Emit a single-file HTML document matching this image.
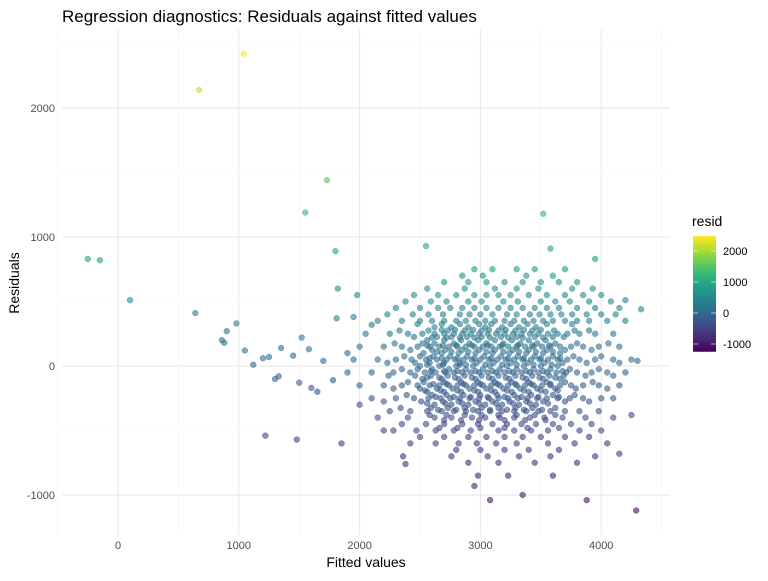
<!DOCTYPE html>
<html><head><meta charset="utf-8"><style>
body{margin:0;background:#fff;font-family:"Liberation Sans",sans-serif}
svg text{font-family:"Liberation Sans",sans-serif}
</style></head><body>
<svg id="chart" width="768" height="576" viewBox="0 0 768 576" xmlns="http://www.w3.org/2000/svg">
<text x="62" y="22" font-size="17" fill="#000">Regression diagnostics: Residuals against fitted values</text>
<g id="grid"></g>
<g id="points"></g>
<g id="axes"></g>
<text x="366" y="567" font-size="14" text-anchor="middle">Fitted values</text>
<text transform="translate(19,283) rotate(-90)" font-size="14" text-anchor="middle">Residuals</text>
<g id="legend">
<text x="692" y="226" font-size="14">resid</text>
</g>
</svg>
<script>
const xTicks=[0,1000,2000,3000,4000];
const yTicks=[-1000,0,1000,2000];
const legendTicks=[-1000,0,1000,2000];
const outlierFitted=[-250,-150,100,640,670,1040,980,900,860,880,1050,1120,1200,1220,1250,1300,1330,1350,1450,1480,1500,1520,1550,1580,1600,1650,1700,1730,1780,1800,1810,1820,1850,1900,1950,1980,2000,2100,2200,2380,2550,3520,3580,3080,3350,3880,4290,4250,4150,4330,4200,4100,4300,3950,2950];
const outlierResid=[830,820,510,410,2140,2420,330,270,200,180,120,10,60,-540,70,-100,-80,140,80,-570,-130,220,1190,130,-170,-200,40,1440,-110,890,370,600,-600,100,380,550,-300,320,-500,-760,930,1180,910,-1040,-1000,-1040,-1120,-380,-680,440,510,-250,40,830,-930];
const bandResid=[750,650,550,450,350,300,250,200,150,100,50,0,-50,-100,-150,-200,-250,-300,-350,-450,-550,-650,-750,
700,600,500,400,325,275,225,175,125,75,25,-25,-75,-125,-175,-225,-275,-325,-400,-500,-600,-700,-850,
280,220,160,110,60,10,-40,-90,-140,-190,-240,-290,-340,-380,-420,-480];
const bandFitted=[
[2950,3100,3300,3450,3700],
[2700,2900,3050,3200,3350,3500,3650,3800],
[2450,2650,2800,2950,3050,3150,3250,3400,3550,3700,3850,4000],
[2300,2500,2650,2750,2850,2950,3050,3150,3250,3350,3450,3550,3650,3800,3950,4150],
[2150,2350,2500,2600,2700,2800,2880,2960,3040,3120,3200,3280,3360,3440,3520,3600,3700,3800,3900,4050,4200],
[2620,2760,2900,3040,3180,3320,3460],
[2050,2250,2400,2520,2620,2700,2780,2850,2920,2990,3060,3130,3200,3270,3340,3410,3480,3560,3640,3720,3820,3950,4100],
[2560,2700,2840,2980,3120,3260,3400,3540],
[2000,2200,2350,2480,2580,2660,2740,2810,2880,2950,3020,3090,3160,3230,3300,3370,3440,3510,3580,3660,3750,3850,3980,4150],
[2530,2680,2820,2960,3100,3240,3380,3520,3660],
[1950,2150,2300,2430,2550,2640,2720,2790,2860,2930,3000,3070,3140,3210,3280,3350,3420,3490,3560,3640,3720,3820,3950,4100,4250],
[2500,2660,2800,2940,3080,3220,3360,3500,3640],
[1900,2100,2280,2420,2540,2630,2710,2780,2850,2920,2990,3060,3130,3200,3270,3340,3410,3480,3550,3630,3710,3800,3920,4050,4200],
[2520,2680,2820,2960,3100,3240,3380,3520,3660],
[2000,2200,2350,2480,2580,2660,2740,2810,2880,2950,3020,3090,3160,3230,3300,3370,3440,3510,3580,3660,3750,3850,3980,4150],
[2560,2700,2840,2980,3120,3260,3400,3540],
[2100,2300,2450,2570,2670,2750,2830,2910,2990,3070,3150,3230,3310,3390,3470,3550,3640,3740,3850,4000],
[2620,2760,2900,3040,3180,3320,3460],
[2250,2420,2560,2680,2780,2880,2980,3080,3180,3280,3380,3480,3580,3700,3820,3980],
[2350,2550,2700,2850,2980,3100,3220,3340,3460,3600,3750,3920],
[2500,2700,2900,3050,3200,3350,3500,3700,3900],
[2800,3000,3200,3400,3650],
[2900,3150,3450,3800],
[3020,3380,3600,2850],
[2560,2870,3120,3300,3480,3760,3930],
[2380,2590,2720,2900,3010,3190,3310,3500,3620,3740,3900,4080],
[2230,2440,2570,2690,2830,2910,3000,3100,3220,3300,3410,3490,3580,3670,3760,3880,4000,4120],
[2480,2680,2830,2990,3090,3250,3390,3550,3760],
[2330,2570,2730,2870,3010,3150,3290,3430,3610,3780,3900],
[2450,2640,2760,2890,3010,3170,3300,3450,3600,3690],
[2290,2520,2620,2780,2910,3050,3190,3330,3470,3620,3800,4060],
[2420,2600,2710,2850,2990,3120,3270,3400,3550,3700,3920],
[2370,2500,2610,2750,2890,3030,3170,3310,3450,3600,3770,4000],
[2230,2460,2580,2700,2830,2970,3110,3250,3390,3530,3680,3880,4150],
[2350,2480,2600,2740,2880,3020,3160,3300,3440,3580,3740,3980],
[2240,2460,2590,2730,2870,3010,3150,3290,3430,3570,3690,3870,4100],
[2400,2530,2700,2840,2980,3120,3260,3400,3550,3700,3930],
[2280,2500,2640,2770,2910,3050,3190,3330,3470,3620,3790,4050],
[2390,2600,2720,2860,3000,3140,3280,3420,3600,3780],
[2200,2510,2690,2820,2960,3100,3240,3380,3520,3700,3900],
[2340,2590,2730,2870,3010,3150,3290,3430,3620],
[2150,2400,2620,2760,2930,3040,3160,3280,3410,3530,3680,3870,4100],
[2280,2470,2630,2780,2920,3150,3280,3420,3560,3820,4000],
[2420,2630,2820,2970,3130,3300,3560,3780,4050],
[2360,2760,3060,3320,3580,3950],
[2980,3230,3600],
[2680,2790,2940,3070,3210,3360,3500],
[2600,2720,2830,2950,3080,3230,3350,3520],
[2560,2690,2800,2930,3060,3180,3310,3430,3570],
[2640,2760,2900,3050,3190,3320,3460,3600],
[2580,2680,2810,2950,3090,3230,3360,3500,3660],
[2560,2690,2830,2880,3040,3180,3300,3440,3590],
[2590,2700,2810,2960,3100,3240,3380,3520,3680],
[2560,2660,2790,2930,3070,3210,3350,3490,3620],
[2610,2720,2860,3000,3140,3290,3420,3580],
[2540,2670,2810,2950,3090,3220,3360,3500,3640],
[2630,2780,2920,3060,3200,3340,3480,3650],
[2560,2710,2850,2990,3130,3270,3410,3560],
[2650,2800,2940,3080,3220,3360,3510],
[2580,2720,2870,3010,3150,3300,3450,3620],
[2700,2840,2990,3200,3370,3540],
[2660,2810,3000,3200,3390,3650]];
const NS='http://www.w3.org/2000/svg';
const px=v=>118+v*0.1208;
const py=v=>366-v*0.129;
const ly=v=>313-v*0.031;
const cMin=-1250,cMax=2480;
const vir=[[68,1,84],[72,40,120],[62,74,137],[49,104,142],[38,130,142],[31,158,137],[53,183,121],[109,205,89],[180,222,44],[253,231,37]];
function col(v){let t=Math.max(0,Math.min(1,(v-cMin)/(cMax-cMin)))*9;let i=Math.min(8,Math.floor(t)),f=t-i;const a=vir[i],b=vir[i+1];return 'rgb('+a.map((c,k)=>Math.round(c+(b[k]-c)*f)).join(',')+')';}
function mk(tag,at,parent){const e=document.createElementNS(NS,tag);for(const k in at)e.setAttribute(k,at[k]);parent.appendChild(e);return e;}
const grid=document.getElementById('grid');
mk('rect',{x:62,y:30,width:608,height:505,fill:'#fff'},grid);
xTicks.forEach(t=>{const l=mk('line',{x1:px(t),x2:px(t),y1:30,y2:535,stroke:'#e6e6e6','stroke-width':1},grid);
const m=mk('line',{x1:px(t+500),x2:px(t+500),y1:30,y2:535,stroke:'#f3f3f3','stroke-width':0.6},grid);});
const m0=mk('line',{x1:px(-500),x2:px(-500),y1:30,y2:535,stroke:'#f3f3f3','stroke-width':0.6},grid);
yTicks.forEach(t=>{const l=mk('line',{x1:62,x2:670,y1:py(t),y2:py(t),stroke:'#e6e6e6','stroke-width':1},grid);
const m=mk('line',{x1:62,x2:670,y1:py(t+500),y2:py(t+500),stroke:'#f3f3f3','stroke-width':0.6},grid);});
const axes=document.getElementById('axes');
xTicks.forEach(t=>{const e=mk('text',{x:px(t),y:549,'font-size':11,fill:'#4d4d4d','text-anchor':'middle'},axes);e.textContent=t;});
yTicks.forEach(t=>{const e=mk('text',{x:55,y:py(t)+4,'font-size':11,fill:'#4d4d4d','text-anchor':'end'},axes);e.textContent=t;});
const pg=document.getElementById('points');
function dot(x,y){const c=mk('circle',{cx:px(x),cy:py(y),r:2.9,fill:col(y),'fill-opacity':0.6,stroke:col(y),'stroke-opacity':0.7,'stroke-width':0.5},pg);}
bandResid.forEach((r,i)=>bandFitted[i].forEach(x=>dot(x,r)));
outlierFitted.forEach((x,i)=>dot(x,outlierResid[i]));
const lg=document.getElementById('legend');
const defs=mk('defs',{},lg);const gr=mk('linearGradient',{id:'vg',x1:0,y1:1,x2:0,y2:0},defs);
vir.forEach((c,i)=>mk('stop',{offset:i/9,'stop-color':'rgb('+c.join(',')+')'},gr));
const bar=mk('rect',{x:693,y:ly(cMax),width:23,height:ly(cMin)-ly(cMax),fill:'url(#vg)'},lg);
legendTicks.forEach(t=>{mk('line',{x1:693,x2:698,y1:ly(t),y2:ly(t),stroke:'#fff','stroke-opacity':0.6},lg);mk('line',{x1:711,x2:716,y1:ly(t),y2:ly(t),stroke:'#fff','stroke-opacity':0.6},lg);
const e=mk('text',{x:723,y:ly(t)+4,'font-size':11,fill:'#000'},lg);e.textContent=t;});
</script>
</body></html>
